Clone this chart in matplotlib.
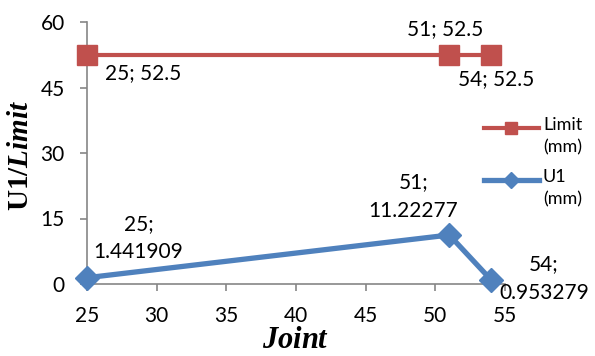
import matplotlib.pyplot as plt
from matplotlib.lines import Line2D

# Joint numbers and displacements (mm)
joints = [25, 51, 54]
limit_mm = [52.5, 52.5, 52.5]
u1_mm = [1.441909, 11.22277, 0.953279]

plt.rcParams["font.family"] = ["Lato", "DejaVu Sans"]
plt.rcParams["mathtext.fontset"] = "custom"
plt.rcParams["mathtext.bf"] = "Liberation Serif:bold"
plt.rcParams["mathtext.bfit"] = "Liberation Serif:italic:bold"

red = "#C0504D"
blue = "#4F81BD"
grey = "#868686"

W, H = 595, 356
fig = plt.figure(figsize=(W / 100, H / 100), dpi=100)
ax = fig.add_axes([87 / W, 1 - 284 / H, 418 / W, 262 / H])

limit_style = dict(color=red, lw=3, marker="s", ms=14)
u1_style = dict(color=blue, lw=3.8, marker="D", ms=12)
ax.plot(joints, limit_mm, clip_on=False, zorder=3, **limit_style)
ax.plot(joints, u1_mm, clip_on=False, zorder=3, **u1_style)

ax.set_xlim(25, 55)
ax.set_ylim(0, 60)
ax.set_xticks(range(25, 56, 5))
ax.set_yticks(range(0, 61, 15))

for s in ["top", "right"]:
    ax.spines[s].set_visible(False)
for s in ["left", "bottom"]:
    ax.spines[s].set_color(grey)
    ax.spines[s].set_linewidth(1.2)
ax.tick_params(colors=grey, labelcolor="black", labelsize=15, length=5,
               width=1.2)
ax.tick_params(axis="x", pad=11)
ax.tick_params(axis="y", pad=11)

# value labels, "x; y"
lbl = dict(fontsize=15, color="black", textcoords="offset points")
ax.annotate("{}; {}".format(joints[0], limit_mm[0]), (joints[0], limit_mm[0]),
            xytext=(13, -6), ha="left", va="top", **lbl)
ax.annotate("{}; {}".format(joints[1], limit_mm[1]), (joints[1], limit_mm[1]),
            xytext=(-3, 11), ha="center", va="bottom", **lbl)
ax.annotate("{}; {}".format(joints[2], limit_mm[2]), (joints[2], limit_mm[2]),
            xytext=(-24, -10), ha="left", va="top", **lbl)
ax.annotate("{};\n{}".format(joints[0], u1_mm[0]), (joints[0], u1_mm[0]),
            xytext=(37, 11), ha="center", va="bottom", linespacing=1.55, **lbl)
ax.annotate("{};\n{}".format(joints[1], u1_mm[1]), (joints[1], u1_mm[1]),
            xytext=(-26, 10), ha="center", va="bottom", linespacing=1.55, **lbl)
ax.annotate("{};\n{}".format(joints[2], u1_mm[2]), (joints[2], u1_mm[2]),
            xytext=(38, 1), ha="center", va="center", linespacing=1.55, **lbl)

ax.set_xlabel(r"$\mathbfit{Joint}$", fontsize=22)
ax.xaxis.set_label_coords(0.5, -0.155)
ax.set_ylabel(r"$\mathbf{U1/}\mathbfit{Limit}$", fontsize=21)
ax.yaxis.set_label_coords(-0.13, 0.49)

# legend, key line beside the first line of each two-line label
entries = [("Limit", limit_style, 128), ("U1", u1_style, 180)]
for name, style, py in entries:
    y = 1 - py / H
    fig.add_artist(Line2D([484 / W, 539 / W], [y, y], color=style["color"],
                          lw=style["lw"]))
    fig.add_artist(Line2D([511 / W], [y], color=style["color"],
                          marker=style["marker"], ms=style["ms"] * 0.65, lw=0))
    fig.text(543 / W, y, name + "\n(mm)", fontsize=13, ha="left", va="top",
             linespacing=1.45, transform=fig.transFigure).set_y(y + 11 / H)

fig.savefig("out.png", dpi=100)
